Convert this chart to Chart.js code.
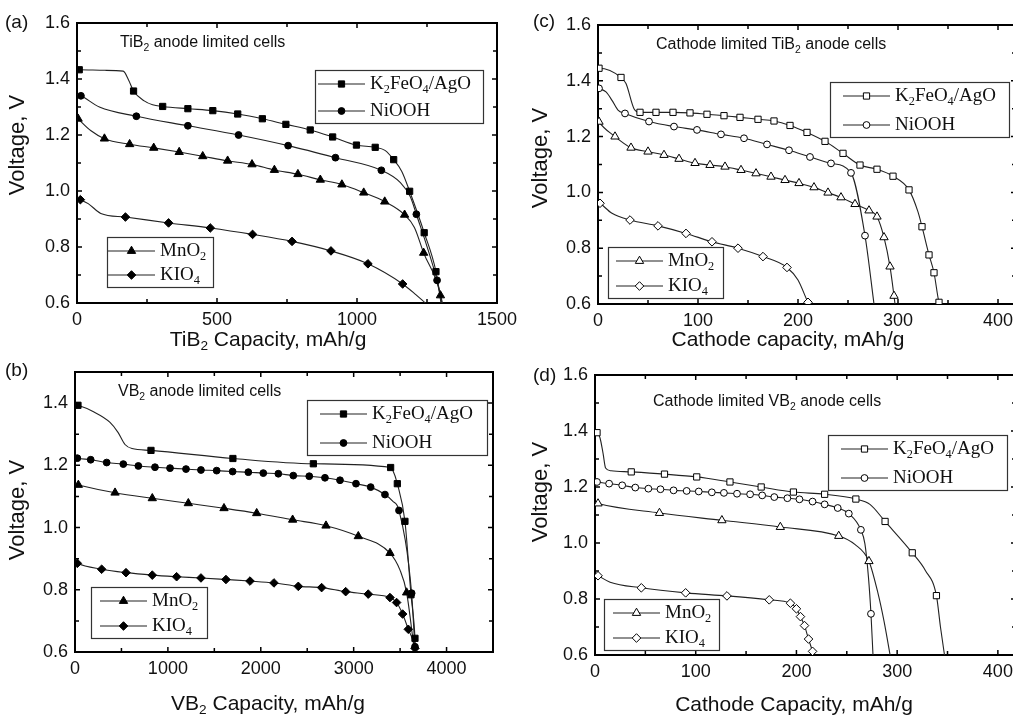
<!DOCTYPE html>
<html>
<head>
<meta charset="utf-8">
<title>Discharge curves</title>
<script src="https://cdn.jsdelivr.net/npm/chart.js@4.4.0/dist/chart.umd.min.js"></script>
<style>
  html, body { margin: 0; padding: 0; background: #fff; overflow: hidden; }
  body { width: 1013px; height: 715px; position: relative; }
  canvas { position: absolute; }
</style>
</head>
<body>
<canvas id="chartA"></canvas>
<canvas id="chartB"></canvas>
<canvas id="chartC"></canvas>
<canvas id="chartD"></canvas>
<script>
// ---- tick labels ----
const voltTicks = [0.6, 0.8, 1.0, 1.2, 1.4, 1.6];
const voltTicksB = [0.6, 0.8, 1.0, 1.2, 1.4];
const tiCapTicks = [0, 500, 1000, 1500];
const vbCapTicks = [0, 1000, 2000, 3000, 4000];
const cathCapTicks = [0, 100, 200, 300, 400];

// ---- series names (legend) ----
const seriesNames = ['K_2FeO_4/AgO', 'NiOOH', 'MnO_2', 'KIO_4'];

// ---- (a) TiB2 anode limited cells: [capacity, voltage] ----
// marks = points carrying a symbol, knots = extra points on the curve
const taFeMarks = [[8,1.433],[202,1.357],[306,1.302],[396,1.294],[485,1.287],[574,1.275],[662,1.258],[746,1.238],[833,1.218],[913,1.193],[998,1.164],[1065,1.156],[1131,1.112],[1188,0.999],[1240,0.851],[1282,0.712]];
const taFeKnots = [[0,1.433],[100,1.431],[165,1.428],[185,1.395],[240,1.322],[270,1.308],[1100,1.145],[1160,1.07],[1300,0.6]];
const taNiMarks = [[14,1.340],[212,1.267],[396,1.233],[577,1.2],[754,1.162],[923,1.119],[1087,1.074],[1212,0.917],[1286,0.681]];
const taNiKnots = [[0,1.345],[80,1.3],[1155,1.03],[1190,0.98],[1305,0.6]];
const taMnMarks = [[4,1.258],[98,1.187],[188,1.167],[274,1.154],[365,1.139],[449,1.124],[538,1.108],[625,1.095],[705,1.075],[789,1.060],[869,1.040],[946,1.023],[1024,0.994],[1099,0.962],[1170,0.915],[1238,0.779],[1298,0.627]];
const taMnKnots = [[0,1.262],[50,1.215],[1205,0.87],[1302,0.6]];
const taKiMarks = [[12,0.969],[173,0.907],[327,0.886],[476,0.868],[627,0.845],[768,0.820],[907,0.786],[1039,0.740],[1163,0.668]];
const taKiKnots = [[0,0.975],[40,0.955],[85,0.92],[1210,0.63],[1244,0.6]];

// ---- (b) VB2 anode limited cells ----
const vaFeMarks = [[32,1.393],[818,1.248],[1700,1.222],[2566,1.205],[3398,1.193],[3470,1.141],[3552,1.020],[3617,0.784],[3660,0.644]];
const vaFeKnots = [[0,1.395],[194,1.373],[377,1.338],[463,1.306],[538,1.267],[614,1.254],[3420,1.185],[3665,0.6]];
const vaNiMarks = [[25,1.223],[169,1.218],[341,1.209],[520,1.204],[682,1.198],[861,1.194],[1023,1.191],[1195,1.188],[1356,1.185],[1525,1.183],[1697,1.180],[1866,1.178],[2027,1.175],[2189,1.173],[2350,1.167],[2522,1.165],[2691,1.160],[2853,1.152],[3025,1.141],[3183,1.130],[3337,1.106],[3488,1.055],[3624,0.789],[3660,0.617]];
const vaNiKnots = [[0,1.225],[3420,1.085],[3668,0.6]];
const vaMnMarks = [[36,1.137],[431,1.112],[832,1.094],[1220,1.078],[1604,1.062],[1956,1.046],[2343,1.025],[2702,1.006],[3050,0.972],[3391,0.918],[3570,0.791]];
const vaMnKnots = [[0,1.14],[3498,0.864],[3655,0.6]];
const vaKiMarks = [[25,0.885],[287,0.866],[549,0.855],[832,0.847],[1094,0.842],[1356,0.838],[1625,0.833],[1884,0.828],[2142,0.822],[2404,0.811],[2655,0.807],[2914,0.794],[3157,0.786],[3391,0.775],[3462,0.759],[3527,0.722],[3588,0.673],[3660,0.612]];
const vaKiKnots = [[0,0.89],[3665,0.6]];

// ---- (c) cathode limited TiB2 anode cells ----
const tcFeMarks = [[1,1.445],[23,1.412],[42,1.287],[58,1.287],[75,1.287],[92,1.285],[109,1.280],[126,1.275],[142,1.269],[160,1.262],[176,1.256],[192,1.240],[209,1.215],[227,1.183],[245,1.140],[262,1.098],[279,1.083],[295,1.058],[311,1.009],[324,0.877],[331,0.776],[336,0.712],[341,0.606]];
const tcFeKnots = [[0,1.445],[28,1.39],[36,1.30],[320,0.93],[342,0.6]];
const tcNiMarks = [[1,1.373],[27,1.283],[51,1.254],[76,1.236],[99,1.224],[123,1.208],[146,1.194],[169,1.172],[191,1.151],[212,1.127],[233,1.104],[253,1.070],[267,0.845]];
const tcNiKnots = [[0,1.375],[8,1.36],[14,1.33],[20,1.295],[276,0.6]];
const tcMnMarks = [[1,1.253],[17,1.200],[33,1.160],[50,1.146],[66,1.134],[81,1.120],[97,1.105],[112,1.098],[127,1.092],[143,1.080],[158,1.068],[173,1.056],[187,1.044],[201,1.033],[216,1.018],[230,0.999],[243,0.982],[257,0.958],[271,0.935],[279,0.913],[286,0.839],[292,0.734],[296,0.629]];
const tcMnKnots = [[0,1.26],[297,0.6]];
const tcKiMarks = [[2,0.961],[32,0.901],[60,0.880],[88,0.853],[114,0.823],[140,0.800],[165,0.770],[189,0.731],[210,0.606]];
const tcKiKnots = [[0,0.965],[14,0.925],[200,0.686],[211,0.6]];

// ---- (d) cathode limited VB2 anode cells ----
const vcFeMarks = [[2,1.394],[36,1.254],[69,1.246],[101,1.236],[134,1.218],[165,1.200],[197,1.182],[228,1.174],[259,1.157],[288,1.077],[315,0.965],[339,0.812]];
const vcFeKnots = [[0,1.395],[5,1.375],[8,1.32],[10.5,1.268],[16,1.258],[273,1.138],[328,0.902],[343,0.70],[347,0.6]];
const vcNiMarks = [[2,1.218],[14,1.212],[27,1.206],[40,1.198],[53,1.194],[65,1.192],[78,1.188],[91,1.186],[103,1.184],[116,1.181],[128,1.179],[141,1.176],[154,1.174],[166,1.170],[178,1.164],[191,1.160],[203,1.156],[216,1.148],[228,1.138],[241,1.125],[252,1.105],[264,1.047],[274,0.747]];
const vcNiKnots = [[0,1.22],[268,0.997],[271.5,0.878],[276,0.6]];
const vcMnMarks = [[3,1.141],[64,1.107],[126,1.081],[184,1.057],[242,1.025],[272,0.935]];
const vcMnKnots = [[0,1.145],[258,0.995],[281,0.82],[287,0.72],[293,0.6]];
const vcKiMarks = [[3,0.883],[46,0.840],[90,0.822],[131,0.811],[173,0.797],[194,0.785],[200,0.765],[204,0.737],[208,0.705],[212,0.657],[216,0.613]];
const vcKiKnots = [[0,0.888],[15,0.86],[217,0.6]];

// ---- look ----
const SANS = '"Liberation Sans", Arial, sans-serif';
const SERIF = '"Liberation Serif", "Times New Roman", serif';
const INK = '#111';
const pointStyles = ['rect', 'circle', 'triangle', 'rectRot'];
const pointSizes = [4.4, 3.4, 4.8, 4.3];

// panel layout (page pixels)
const panels = [
  {
    id: 'chartA', left: 0, top: 0, width: 530, height: 357,
    area: { l: 77, t: 23, r: 497, b: 303 },
    xMin: 0, xMax: 1500, xTicks: tiCapTicks, yMin: 0.6, yMax: 1.6, yTicks: voltTicks,
    open: false,
    series: [[taFeMarks, taFeKnots], [taNiMarks, taNiKnots], [taMnMarks, taMnKnots], [taKiMarks, taKiKnots]],
    tag: ['(a)', 5, 23],
    note: ['TiB_2 anode limited cells', 120, 43],
    xTitle: ['TiB_2 Capacity, mAh/g', 268, 340],
    yTitle: ['Voltage, V', 18, 145],
    legends: [{ x: 315, y: 70, w: 168, h: 53, pad: 3, rows: [0, 1] }, { x: 107, y: 237, w: 106, h: 50, pad: 1, rows: [2, 3] }]
  },
  {
    id: 'chartB', left: 0, top: 357, width: 530, height: 358,
    area: { l: 75, t: 15, r: 493, b: 295 },
    xMin: 0, xMax: 4500, xTicks: vbCapTicks, yMin: 0.6, yMax: 1.5, yTicks: voltTicksB,
    open: false,
    series: [[vaFeMarks, vaFeKnots], [vaNiMarks, vaNiKnots], [vaMnMarks, vaMnKnots], [vaKiMarks, vaKiKnots]],
    tag: ['(b)', 5, 371],
    note: ['VB_2 anode limited cells', 118, 392],
    xTitle: ['VB_2 Capacity, mAh/g', 268, 704],
    yTitle: ['Voltage, V', 18, 510],
    legends: [{ x: 307, y: 400, w: 180, h: 55, pad: 13, rows: [0, 1] }, { x: 91, y: 587, w: 116, h: 51, pad: 9, rows: [2, 3] }]
  },
  {
    id: 'chartC', left: 506, top: 0, width: 530, height: 357,
    area: { l: 92, t: 25, r: 510, b: 304 },
    xMin: 0, xMax: 418, xTicks: cathCapTicks, yMin: 0.6, yMax: 1.6, yTicks: voltTicks,
    open: true,
    series: [[tcFeMarks, tcFeKnots], [tcNiMarks, tcNiKnots], [tcMnMarks, tcMnKnots], [tcKiMarks, tcKiKnots]],
    tag: ['(c)', 533, 22],
    note: ['Cathode limited TiB_2 anode cells', 656, 45],
    xTitle: ['Cathode capacity, mAh/g', 788, 340],
    yTitle: ['Voltage, V', 541, 158],
    legends: [{ x: 830, y: 82, w: 179, h: 55, pad: 13, rows: [0, 1] }, { x: 608, y: 247, w: 115, h: 51, pad: 8, rows: [2, 3] }]
  },
  {
    id: 'chartD', left: 506, top: 357, width: 530, height: 358,
    area: { l: 89, t: 18, r: 510, b: 298 },
    xMin: 0, xMax: 418, xTicks: cathCapTicks, yMin: 0.6, yMax: 1.6, yTicks: voltTicks,
    open: true,
    series: [[vcFeMarks, vcFeKnots], [vcNiMarks, vcNiKnots], [vcMnMarks, vcMnKnots], [vcKiMarks, vcKiKnots]],
    tag: ['(d)', 533, 376],
    note: ['Cathode limited VB_2 anode cells', 653, 402],
    xTitle: ['Cathode Capacity, mAh/g', 794, 705],
    yTitle: ['Voltage, V', 541, 492],
    legends: [{ x: 828, y: 435, w: 179, h: 55, pad: 13, rows: [0, 1] }, { x: 604, y: 599, w: 115, h: 51, pad: 9, rows: [2, 3] }]
  }
];

// text with "_n" subscripts
function richText(ctx, str, x, y, size, family, align) {
  const parts = str.split(/_(\d)/);
  const fontFor = sub => (sub ? size * 0.65 : size) + 'px ' + family;
  let w = 0;
  parts.forEach((p, i) => { ctx.font = fontFor(i % 2); w += ctx.measureText(p).width; });
  let cx = align === 'center' ? x - w / 2 : x;
  ctx.textAlign = 'left';
  ctx.textBaseline = 'middle';
  parts.forEach((p, i) => {
    const sub = i % 2;
    ctx.font = fontFor(sub);
    ctx.fillText(p, cx, sub ? y + size * 0.32 : y);
    cx += ctx.measureText(p).width;
  });
}

function midpoints(arr) {
  const out = [];
  for (let i = 1; i < arr.length; i++) out.push((arr[i - 1] + arr[i]) / 2);
  return out;
}

function symbol(ctx, i, open, x, y) {
  ctx.fillStyle = open ? '#fff' : '#000';
  ctx.strokeStyle = '#000';
  ctx.lineWidth = 1;
  Chart.helpers.drawPoint(ctx, { pointStyle: pointStyles[i], radius: pointSizes[i], rotation: 0, borderWidth: 1 }, x, y);
}

function makeDecor(p) {
  return {
    id: 'decor',
    beforeDatasetsDraw(chart) {
      const ctx = chart.ctx;
      const { left, top, right, bottom } = chart.chartArea;
      const xs = chart.scales.x, ys = chart.scales.y;
      ctx.save();
      ctx.strokeStyle = '#000';
      ctx.lineWidth = 1.5;
      const xt = p.xTicks.map(v => [v, 5]).concat(midpoints(p.xTicks).map(v => [v, 4]));
      xt.forEach(([v, len]) => {
        const X = xs.getPixelForValue(v);
        ctx.beginPath();
        ctx.moveTo(X, bottom); ctx.lineTo(X, bottom - len);
        ctx.moveTo(X, top); ctx.lineTo(X, top + len);
        ctx.stroke();
      });
      const yt = p.yTicks.map(v => [v, 5]).concat(midpoints(p.yTicks).map(v => [v, 4]));
      yt.forEach(([v, len]) => {
        const Y = ys.getPixelForValue(v);
        ctx.beginPath();
        ctx.moveTo(left, Y); ctx.lineTo(left + len, Y);
        ctx.moveTo(right, Y); ctx.lineTo(right - len, Y);
        ctx.stroke();
      });
      ctx.lineWidth = 2;
      ctx.strokeRect(left, top, right - left, bottom - top);
      ctx.restore();
    },
    afterDraw(chart) {
      const ctx = chart.ctx;
      ctx.save();
      ctx.translate(-p.left, -p.top);
      ctx.fillStyle = INK;
      richText(ctx, p.tag[0], p.tag[1], p.tag[2], 19, SANS, 'left');
      richText(ctx, p.note[0], p.note[1], p.note[2], 16, SANS, 'left');
      richText(ctx, p.xTitle[0], p.xTitle[1], p.xTitle[2], 21, SANS, 'center');
      ctx.save();
      ctx.translate(p.yTitle[1], p.yTitle[2]);
      ctx.rotate(-Math.PI / 2);
      richText(ctx, p.yTitle[0], 0, 0, 22, SANS, 'center');
      ctx.restore();

      p.legends.forEach(lg => {
        ctx.fillStyle = '#fff';
        ctx.fillRect(lg.x, lg.y, lg.w, lg.h);
        ctx.strokeStyle = '#333';
        ctx.lineWidth = 1.2;
        ctx.strokeRect(lg.x + 0.5, lg.y + 0.5, lg.w, lg.h);
        lg.rows.forEach((si, k) => {
          const y = k === 0 ? lg.y + 14 : lg.y + lg.h - 12;
          const x0 = lg.x + lg.pad, x1 = x0 + 47;
          ctx.strokeStyle = '#222';
          ctx.lineWidth = 1.1;
          ctx.beginPath(); ctx.moveTo(x0, y); ctx.lineTo(x1, y); ctx.stroke();
          symbol(ctx, si, p.open, (x0 + x1) / 2, y);
          ctx.fillStyle = INK;
          richText(ctx, seriesNames[si], x1 + 5, y, 19, SERIF, 'left');
        });
      });
      ctx.restore();
    }
  };
}

function buildPanel(p) {
  const canvas = document.getElementById(p.id);
  canvas.width = p.width;
  canvas.height = p.height;
  canvas.style.left = p.left + 'px';
  canvas.style.top = p.top + 'px';

  const datasets = [];
  p.series.forEach(([marks, knots], i) => {
    const curve = marks.concat(knots).sort((a, b) => a[0] - b[0]).map(([x, y]) => ({ x, y }));
    datasets.push({
      label: seriesNames[i], data: curve, order: 1,
      borderColor: '#222', borderWidth: 1.1, pointRadius: 0, fill: false,
      tension: 0.4, cubicInterpolationMode: 'monotone'
    });
    datasets.push({
      label: seriesNames[i] + ' marks', data: marks.map(([x, y]) => ({ x, y })), order: 0,
      showLine: false, pointStyle: pointStyles[i], pointRadius: pointSizes[i],
      pointBackgroundColor: p.open ? '#fff' : '#000', pointBorderColor: '#000', pointBorderWidth: 1
    });
  });

  const tickFont = { family: SANS, size: 18 };
  new Chart(canvas, {
    type: 'line',
    data: { datasets },
    options: {
      responsive: false,
      animation: false,
      events: [],
      layout: { padding: { left: 0, top: p.area.t, right: p.width - p.area.r, bottom: 0 } },
      plugins: { legend: { display: false }, tooltip: { enabled: false } },
      scales: {
        x: {
          type: 'linear', min: p.xMin, max: p.xMax,
          grid: { display: false, drawTicks: false }, border: { display: false },
          ticks: { color: INK, font: tickFont, padding: 6, maxRotation: 0, autoSkip: false, callback: v => String(v) },
          afterBuildTicks: s => { s.ticks = p.xTicks.map(v => ({ value: v })); },
          afterFit: s => { s.height = p.height - p.area.b; s.paddingLeft = 0; s.paddingRight = 0; }
        },
        y: {
          type: 'linear', min: p.yMin, max: p.yMax,
          grid: { display: false, drawTicks: false }, border: { display: false },
          ticks: { color: INK, font: tickFont, padding: 7, autoSkip: false, callback: v => Number(v).toFixed(1) },
          afterBuildTicks: s => { s.ticks = p.yTicks.map(v => ({ value: v })); },
          afterFit: s => { s.width = p.area.l; s.paddingTop = 0; s.paddingBottom = 0; }
        }
      }
    },
    plugins: [makeDecor(p)]
  });
}

panels.forEach(buildPanel);
</script>
</body>
</html>
